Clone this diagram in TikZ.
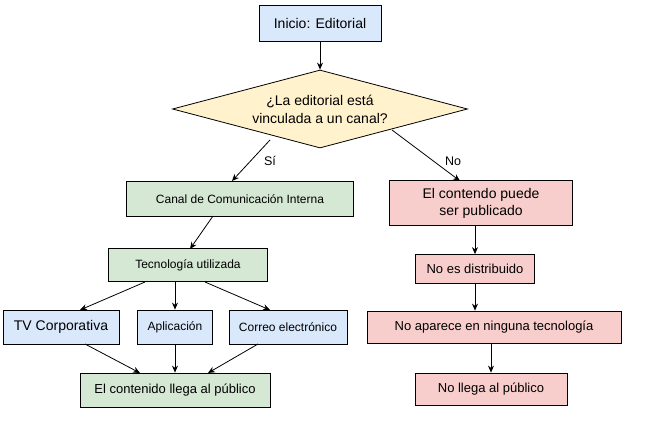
\documentclass[tikz,border=0pt]{standalone}
\usepackage{fontspec}
\setmainfont{Liberation Sans}
\usetikzlibrary{shapes.geometric,arrows.meta}
\definecolor{cblue}{HTML}{DAE8FC}
\definecolor{cgreen}{HTML}{D5E8D4}
\definecolor{cpink}{HTML}{F8CECC}
\definecolor{cyel}{HTML}{FFF2CC}
\begin{document}
\begin{tikzpicture}[x=1pt,y=-1pt,
  bx/.style={draw,thick,inner sep=0pt,align=center,font=\fontsize{12}{15}\selectfont},
  arr/.style={-{Stealth[length=7pt,width=6pt]},thick},
  lbl/.style={font=\fontsize{12.5}{14}\selectfont}]
\useasboundingbox (0,0) rectangle (670,446);
\node[bx,fill=cblue,minimum width=122,minimum height=36,font=\fontsize{14}{17}\selectfont] (a) at (320,23) {Inicio: Editorial};
\node[bx,fill=cyel,diamond,aspect=3.8,minimum width=295,minimum height=78,font=\fontsize{14}{18}\selectfont] (d) at (320,109) {¿La editorial está\\vinculada a un canal?};
\node[bx,fill=cgreen,minimum width=227,minimum height=35] (c) at (240,199) {Canal de Comunicación Interna};
\node[bx,fill=cpink,minimum width=183,minimum height=45,font=\fontsize{14}{17}\selectfont] (p) at (481,203) {El contendo puede\\ser publicado};
\node[bx,fill=cgreen,minimum width=159,minimum height=33] (t) at (188,265) {Tecnología utilizada};
\node[bx,fill=cblue,minimum width=116,minimum height=34,font=\fontsize{14}{17}\selectfont] (tv) at (61,327) {TV Corporativa};
\node[bx,fill=cblue,minimum width=75,minimum height=34] (ap) at (175,327) {Aplicación};
\node[bx,fill=cblue,minimum width=118,minimum height=34] (co) at (288,327) {Correo electrónico};
\node[bx,fill=cgreen,minimum width=190,minimum height=34,font=\fontsize{13}{16}\selectfont] (l) at (175,390) {El contenido llega al público};
\node[bx,fill=cpink,minimum width=119,minimum height=29,font=\fontsize{13}{16}\selectfont] (n1) at (475,269) {No es distribuido};
\node[bx,fill=cpink,minimum width=254,minimum height=32,font=\fontsize{13}{16}\selectfont] (n2) at (494,327) {No aparece en ninguna tecnología};
\node[bx,fill=cpink,minimum width=152,minimum height=32,font=\fontsize{13}{16}\selectfont] (n3) at (491,389) {No llega al público};
\draw[arr] (a) -- (d.north);
\draw[arr] (270,140) -- (232,181);
\node[lbl] (si) at (270,161) {Sí};
\draw[arr] (392,130) -- (460,181);
\node[lbl] (no) at (453,161) {No};
\draw[arr] (213,216) -- (190,249);
\draw[arr] (145,282) -- (80,310);
\draw[arr] (t.south -| ap) -- (ap.north);
\draw[arr] (205,282) -- (270,310);
\draw[arr] (85,344) -- (140,373);
\draw[arr] (ap) -- (l);
\draw[arr] (258,344) -- (208,373);
\draw[arr] (p.south -| n1) -- (n1.north);
\draw[arr] (n1.south) -- (n1.south |- n2.north);
\draw[arr] (n2.south -| n3) -- (n3.north);
\end{tikzpicture}
\end{document}
